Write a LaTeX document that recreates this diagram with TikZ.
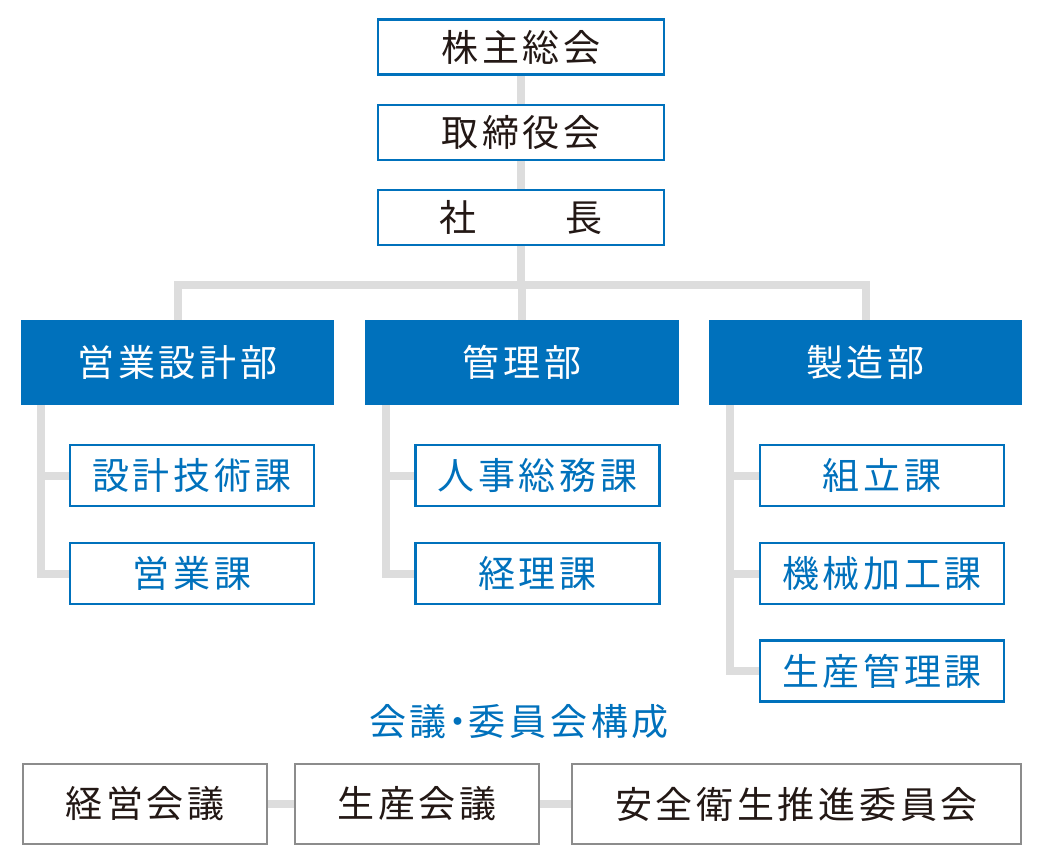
\documentclass[tikz,border=0pt]{standalone}
\usepackage{fontspec}
\usetikzlibrary{backgrounds}
\newfontfamily\jp{Noto Sans CJK JP}[LetterSpace=10]
\definecolor{cblue}{RGB}{0,113,188}
\definecolor{cline}{RGB}{221,221,221}
\definecolor{cgray}{RGB}{140,140,140}
\definecolor{ctext}{RGB}{35,24,21}
\tikzset{
  topbox/.style={draw=cblue,line width=2.5pt,fill=white,minimum width=286pt,minimum height=55pt,inner sep=0pt,font=\jp\fontsize{37}{40}\selectfont,text=ctext},
  deptbox/.style={fill=cblue,draw=none,minimum width=313pt,minimum height=85pt,inner sep=0pt,font=\jp\fontsize{37}{40}\selectfont,text=white},
  subbox/.style={draw=cblue,line width=2.5pt,fill=white,minimum width=244pt,minimum height=61pt,inner sep=0pt,font=\jp\fontsize{37}{40}\selectfont,text=cblue},
  meetbox/.style={draw=cgray,line width=2.5pt,fill=white,minimum height=80pt,inner sep=0pt,font=\jp\fontsize{37}{40}\selectfont,text=ctext},
  conn/.style={draw=cline,line width=8pt},
  titletext/.style={font=\jp\fontsize{37}{38}\selectfont,text=cblue,inner sep=0pt}
}
\begin{document}
\begin{tikzpicture}[x=1pt,y=-1pt]
\useasboundingbox (0,0) rectangle (1045,862);
% top chain
\node[topbox] (kabu) at (521,47) {株主総会};
\node[topbox] (tori) at (521,132.5) {取締役会};
\node[topbox] (shacho) at (521,217.5) {\makebox[164pt]{社\hfill 長}};
% departments
\node[deptbox] (eigyo) at (177.5,362.5) {営業設計部};
\node[deptbox,minimum width=314pt] (kanri) at (522,362.5) {管理部};
\node[deptbox] (seizo) at (865.5,362.5) {製造部};
% sections
\node[subbox] (sekkei) at (192,475.5) {設計技術課};
\node[subbox] (eigyoka) at (192,573.5) {営業課};
\node[subbox] (jinji) at (537.5,475.5) {人事総務課};
\node[subbox] (keiri) at (537.5,573.5) {経理課};
\node[subbox] (kumitate) at (882,475.5) {組立課};
\node[subbox] (kikai) at (882,573.5) {機械加工課};
\node[subbox] (seisankanri) at (882,671) {生産管理課};
% meetings
\node[titletext] (title) at (519,722) {会議\makebox[22pt]{・}委員会構成};
\node[meetbox,minimum width=244pt] (keiei) at (145,804) {経営会議};
\node[meetbox,minimum width=244pt] (seisan) at (417,804) {生産会議};
\node[meetbox,minimum width=449pt] (anzen) at (796.5,804) {安全衛生推進委員会};
% connectors
\coordinate (busL) at (177.5,285);
\coordinate (busR) at (865.5,285);
\coordinate (busM) at (521,285);
\begin{scope}[on background layer]
\path[conn] (kabu.south) -- (tori.north);
\path[conn] (tori.south) -- (shacho.north);
\path[conn] (shacho.south) -- (busM);
\path[conn] (eigyo.north) -- (busL) -- (busR) -- (seizo.north);
\path[conn] (kanri.north) -- (kanri.north |- busM);
\path[conn] ([xshift=20.5pt]eigyo.south west) |- (sekkei.west);
\path[conn] ([xshift=20.5pt]eigyo.south west) |- (eigyoka.west);
\path[conn] ([xshift=21pt]kanri.south west) |- (jinji.west);
\path[conn] ([xshift=21pt]kanri.south west) |- (keiri.west);
\path[conn] ([xshift=21.5pt]seizo.south west) |- (kumitate.west);
\path[conn] ([xshift=21.5pt]seizo.south west) |- (kikai.west);
\path[conn] ([xshift=21.5pt]seizo.south west) |- (seisankanri.west);
\path[conn] (keiei.east) -- (seisan.west);
\path[conn] (seisan.east) -- (anzen.west);
\end{scope}
\end{tikzpicture}
\end{document}
